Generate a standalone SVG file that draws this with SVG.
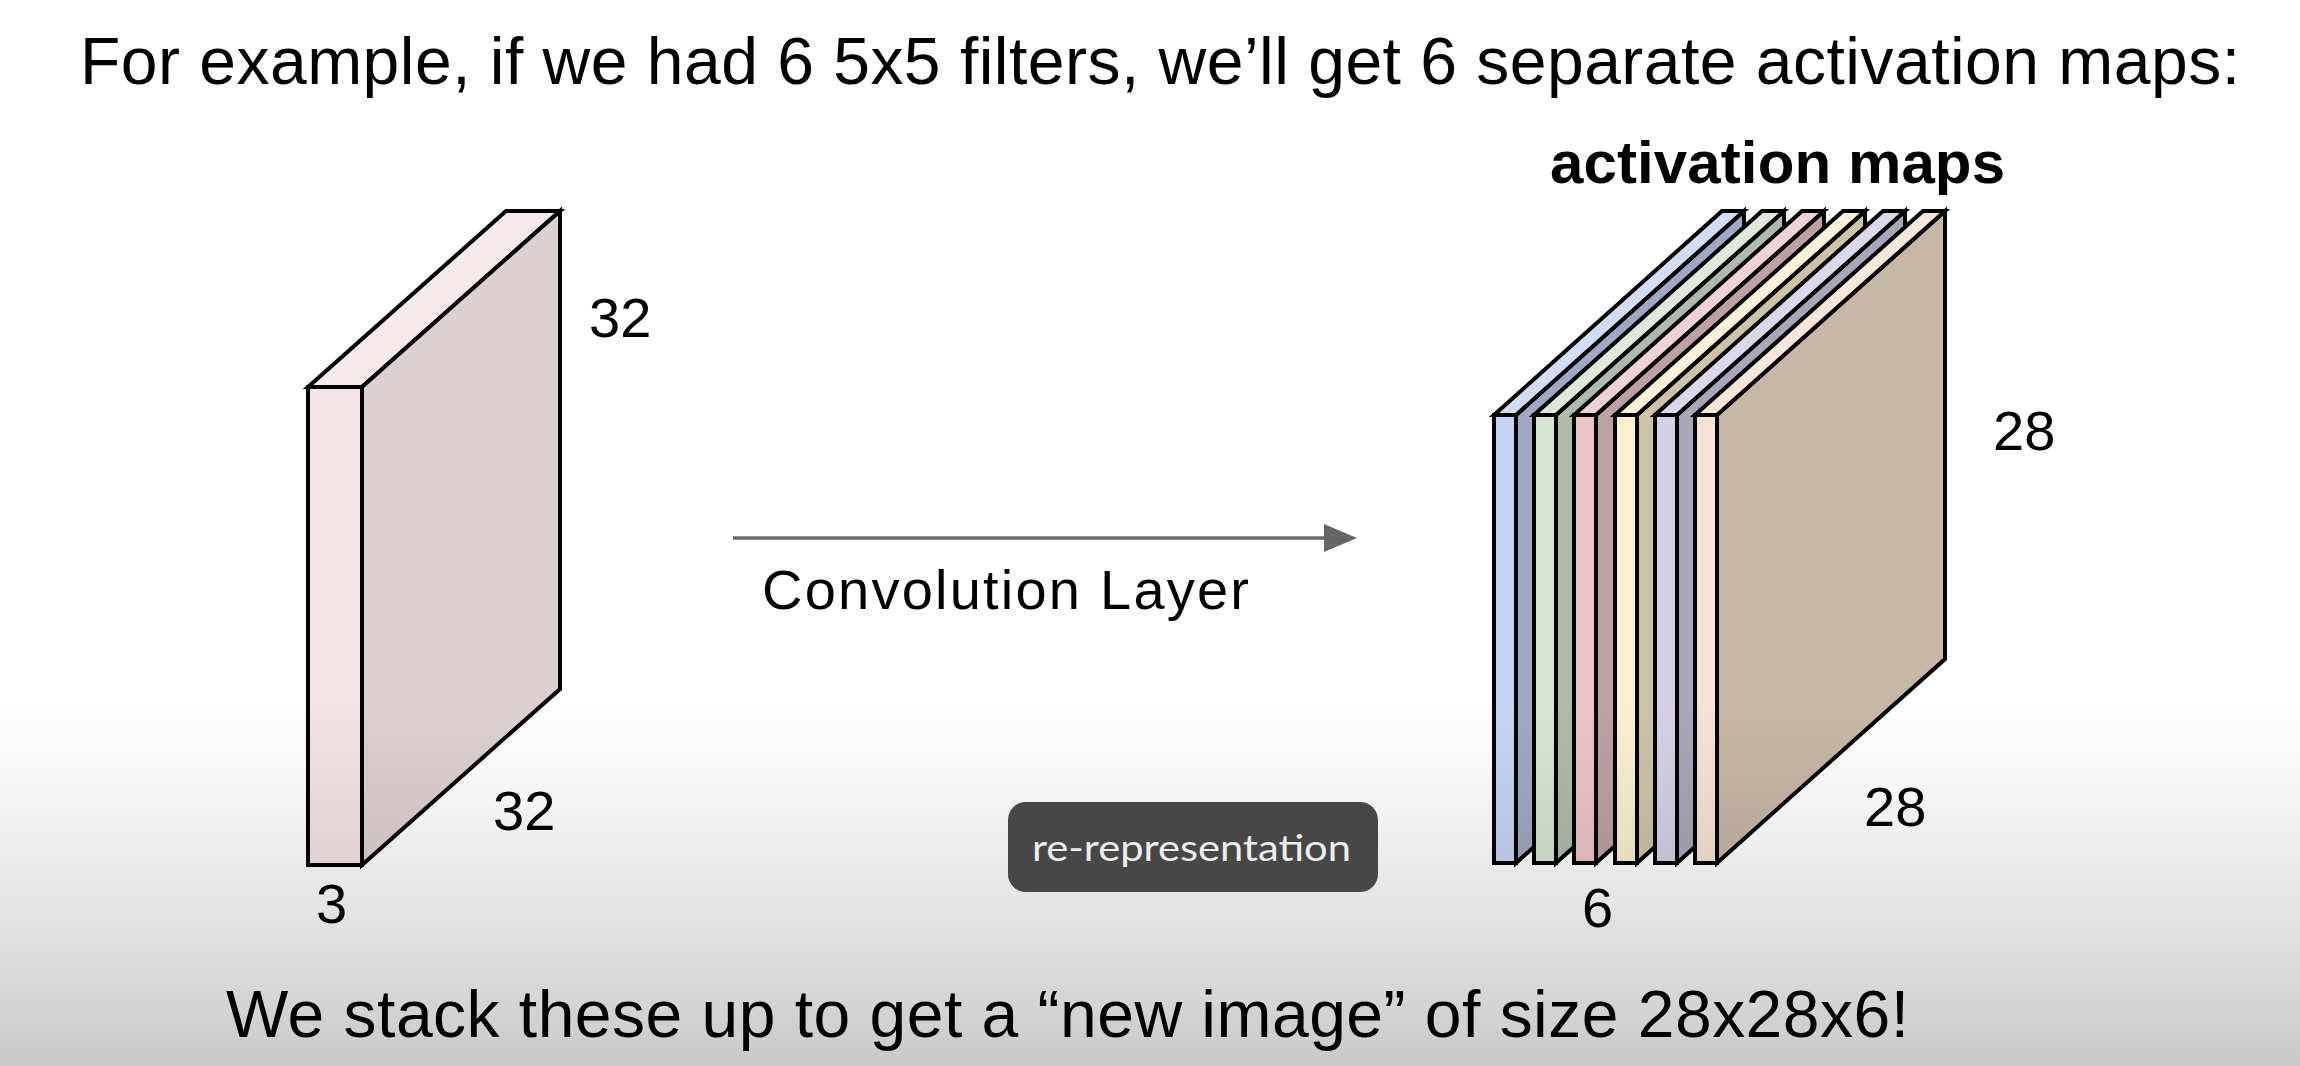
<svg xmlns="http://www.w3.org/2000/svg" width="2300" height="1066" viewBox="0 0 2300 1066">
<defs>
<linearGradient id="shade" x1="0" y1="0" x2="0" y2="1066" gradientUnits="userSpaceOnUse">
<stop offset="0" stop-color="#000" stop-opacity="0"/>
<stop offset="0.66" stop-color="#000" stop-opacity="0"/>
<stop offset="0.75" stop-color="#000" stop-opacity="0.045"/>
<stop offset="0.89" stop-color="#000" stop-opacity="0.13"/>
<stop offset="1" stop-color="#000" stop-opacity="0.21"/>
</linearGradient>
</defs>
<style>
.txt{font-family:"Liberation Sans",Arial,Helvetica,sans-serif;fill:#000}
.title{font-size:66px}
.bold{font-size:60px;font-weight:bold}
.num{font-size:56px}
.conv{font-size:56px}
.face{stroke:#000;stroke-width:4;stroke-linejoin:miter}
.badge{font-family:Lato,"Open Sans","Noto Sans",sans-serif;font-size:37px;fill:#eeeeee}
</style>
<rect x="0" y="0" width="2300" height="1066" fill="#ffffff"/>

<text class="txt title" x="80" y="84" textLength="2160" lengthAdjust="spacing">For example, if we had 6 5x5 filters, we’ll get 6 separate activation maps:</text>

<g id="input-volume">
<polygon class="face" fill="#f6e9eb" points="308,387 362,387 560,211 506,211"/>
<polygon class="face" fill="#ddd0d1" points="362,387 560,211 560,689 362,865"/>
<rect class="face" fill="#f4e3e5" x="308" y="387" width="54" height="478"/>
</g>
<g id="input-labels">
<text class="txt num" x="589" y="337">32</text>
<text class="txt num" x="493" y="830">32</text>
<text class="txt num" x="316" y="923">3</text>
</g>

<g id="connectors">
<line x1="733" y1="538" x2="1326" y2="538" stroke="#6b6b6b" stroke-width="3.5"/>
<polygon points="1324,524 1357,538 1324,552" fill="#666666"/>
</g>
<text class="txt conv" x="762" y="609" textLength="487" lengthAdjust="spacing">Convolution Layer</text>

<text class="txt bold" x="1550" y="183" textLength="455" lengthAdjust="spacing">activation maps</text>

<g id="activation-maps">
<g id="map1">
<polygon class="face" fill="#a0a8c4" points="1516,415 1744,211 1744,659 1516,863"/>
<polygon class="face" fill="#d2ddf4" points="1494,415 1516,415 1744,211 1722,211"/>
<rect class="face" fill="#c6d5f3" x="1494" y="415" width="22" height="448"/>
</g>
<g id="map2">
<polygon class="face" fill="#afbaac" points="1556,415 1784,211 1784,659 1556,863"/>
<polygon class="face" fill="#dfe9da" points="1534,415 1556,415 1784,211 1762,211"/>
<rect class="face" fill="#d8e5d2" x="1534" y="415" width="22" height="448"/>
</g>
<g id="map3">
<polygon class="face" fill="#bea1a2" points="1596,415 1824,211 1824,659 1596,863"/>
<polygon class="face" fill="#efd3d4" points="1574,415 1596,415 1824,211 1802,211"/>
<rect class="face" fill="#ecc6c7" x="1574" y="415" width="22" height="448"/>
</g>
<g id="map4">
<polygon class="face" fill="#cdc3a7" points="1637,415 1865,211 1865,659 1637,863"/>
<polygon class="face" fill="#faf1d8" points="1615,415 1637,415 1865,211 1843,211"/>
<rect class="face" fill="#fbefcf" x="1615" y="415" width="22" height="448"/>
</g>
<g id="map5">
<polygon class="face" fill="#aaa6b7" points="1677,415 1905,211 1905,659 1677,863"/>
<polygon class="face" fill="#dcd8ec" points="1655,415 1677,415 1905,211 1883,211"/>
<rect class="face" fill="#d5d0e6" x="1655" y="415" width="22" height="448"/>
</g>
<g id="map6">
<polygon class="face" fill="#c8b6a6" points="1717,415 1945,211 1945,659 1717,863"/>
<polygon class="face" fill="#f7e7d9" points="1695,415 1717,415 1945,211 1923,211"/>
<rect class="face" fill="#f7e3d1" x="1695" y="415" width="22" height="448"/>
</g>
</g>
<g id="output-labels">
<text class="txt num" x="1993" y="450">28</text>
<text class="txt num" x="1864" y="826">28</text>
<text class="txt num" x="1582" y="927">6</text>
</g>

<text class="txt title" x="226" y="1037" textLength="1683" lengthAdjust="spacing">We stack these up to get a “new image” of size 28x28x6!</text>

<rect x="0" y="0" width="2300" height="1066" fill="url(#shade)"/>

<g id="re-representation">
<rect x="1008" y="802" width="370" height="90" rx="18" ry="18" fill="#474747"/>
<text class="badge" x="1032" y="861" textLength="319" lengthAdjust="spacingAndGlyphs">re-representation</text>
</g>
</svg>
